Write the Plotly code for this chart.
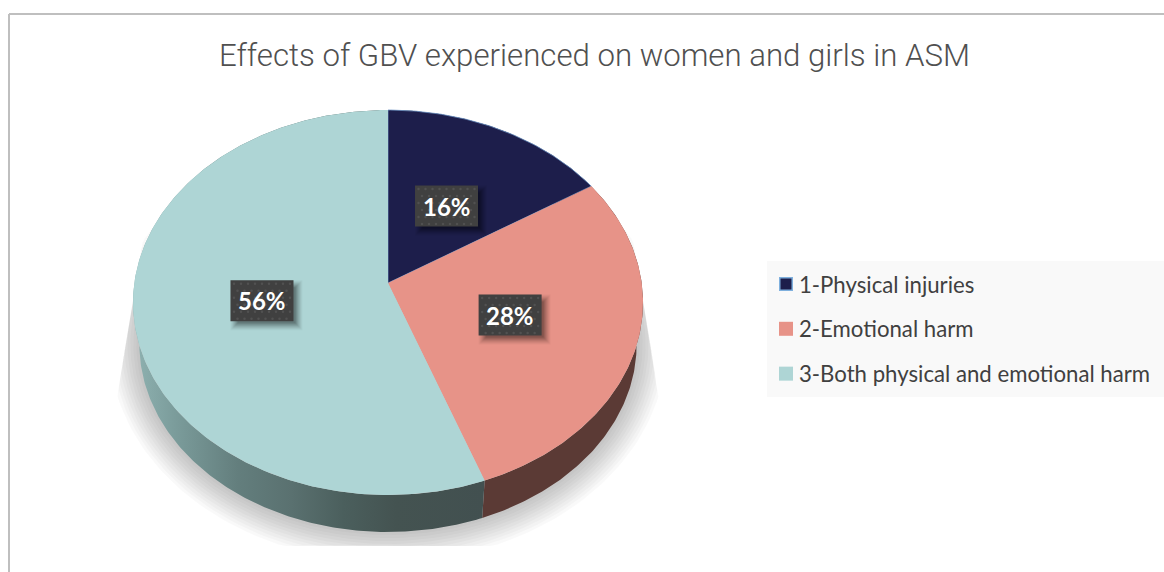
import math
import plotly.graph_objects as go

# ---- data ----
categories = ["1-Physical injuries", "2-Emotional harm", "3-Both physical and emotional harm"]
values = [16.0, 28.4, 55.6]
title_text = "Effects of GBV experienced on women and girls in ASM"

top_colors = ["#1d1e4b", "#e79388", "#aed5d5"]
wall_colors = ["#101128", "#5b3a35", "#4a5f5e"]
label_dy = [3, 1, 1]

# ---- pie geometry (pixel-scale axes, slight perspective) ----
W, H = 1164, 572
CX, CY = 388, 283
K, A, B = 0.1013, 190.5, 253.7
DEPTH_SCALE, DEPTH_DY = 0.975, 42.3


def project(theta, r=1.0):
    u, v = r * math.sin(theta), -r * math.cos(theta)
    w = 1 - K * v
    return B * u / w, A * v / w


def arc(a0, a1, n=None):
    n = n or max(4, int(abs(a1 - a0) * 90))
    return [a0 + (a1 - a0) * i / n for i in range(n + 1)]


total = sum(values)
bounds = [0.0]
for val in values:
    bounds.append(bounds[-1] + val / total * 2 * math.pi)

fig = go.Figure()


def poly(xs, ys, **kw):
    fig.add_trace(go.Scatter(x=xs, y=ys, mode="lines", fill="toself", line=kw.pop("line", dict(width=0)),
                             hoverinfo="skip", showlegend=False, **kw))


# ---- soft floor shadow ----
def shadow_left(y):
    return 133 - (min(y, 403) - 300) * 17 / 103


n_layers = 10
for k in range(n_layers, 0, -1):
    d = k * 3.0
    xs, ys = [], []
    for t in arc(0, 2 * math.pi, 240):
        px, py = project(t)
        bx = px * DEPTH_SCALE
        by = py * DEPTH_SCALE + DEPTH_DY
        sx = bx * (1 + d / 249)
        sy = (by - 61) * (1 + d / 188) + 61
        x, y = CX + sx, CY + sy
        left = shadow_left(y)
        x = max(left, min(x, 2 * CX - left))
        y = min(y, 546)
        xs.append(x)
        ys.append(y)
    poly(xs, ys, fillcolor="rgba(0,0,0,0.024)")

# ---- side walls ----
wall_gradient = dict(type="horizontal", start=133, stop=484, colorscale=[
    [0.00, "#8fb2b1"], [0.12, "#7b9c9b"], [0.30, "#637e7d"], [0.45, "#5a7170"],
    [0.60, "#4b5f5d"], [0.75, "#445351"], [1.00, "#425050"]])
for i in range(len(values)):
    ts = arc(bounds[i], bounds[i + 1])
    outer = [project(t) for t in ts]
    xs = [CX + p[0] for p in outer] + [CX + p[0] * DEPTH_SCALE for p in reversed(outer)]
    ys = [CY + p[1] for p in outer] + [CY + p[1] * DEPTH_SCALE + DEPTH_DY for p in reversed(outer)]
    if i == 2:
        poly(xs, ys, fillgradient=wall_gradient)
    else:
        poly(xs, ys, fillcolor=wall_colors[i])

# ---- top faces ----
for i in range(len(values)):
    ts = arc(bounds[i], bounds[i + 1])
    xs = [CX] + [CX + project(t)[0] for t in ts] + [CX]
    ys = [CY] + [CY + project(t)[1] for t in ts] + [CY]
    line = dict(width=0.8, color="#6d93c4") if i == 0 else dict(width=0)
    poly(xs, ys, fillcolor=top_colors[i], line=line)

# ---- data labels ----
LBL_W, LBL_H = 63, 41
annotations = []
for i, val in enumerate(values):
    mid = (bounds[i] + bounds[i + 1]) / 2
    px, py = project(mid, 0.5)
    lx, ly = CX + px, CY + py + label_dy[i]
    for off, alpha in [(9, 0.03), (8, 0.04), (7, 0.05), (6, 0.06), (5, 0.07), (4, 0.08), (3, 0.09), (2, 0.1)]:
        poly([lx - LBL_W / 2 + 9 - off, lx + LBL_W / 2 + off, lx + LBL_W / 2 + off, lx - LBL_W / 2 + 9 - off,
              lx - LBL_W / 2 + 9 - off],
             [ly - LBL_H / 2 + 9 - off, ly - LBL_H / 2 + 9 - off, ly + LBL_H / 2 + off, ly + LBL_H / 2 + off,
              ly - LBL_H / 2 + 9 - off],
             fillcolor=f"rgba(0,0,0,{alpha})")
    poly([lx - LBL_W / 2, lx + LBL_W / 2, lx + LBL_W / 2, lx - LBL_W / 2, lx - LBL_W / 2],
         [ly - LBL_H / 2, ly - LBL_H / 2, ly + LBL_H / 2, ly + LBL_H / 2, ly - LBL_H / 2],
         fillcolor="#404040")
    dots_x, dots_y = [], []
    for row in range(6):
        for col in range(9):
            dots_x.append(lx - LBL_W / 2 + 3.5 + col * 7 + (3.5 if row % 2 else 0))
            dots_y.append(ly - LBL_H / 2 + 3.5 + row * 7)
    dots = [(a, b) for a, b in zip(dots_x, dots_y) if a < lx + LBL_W / 2 - 1]
    fig.add_trace(go.Scatter(x=[p[0] for p in dots], y=[p[1] for p in dots], mode="markers",
                             marker=dict(size=2.5, color="rgba(255,255,255,0.09)"),
                             hoverinfo="skip", showlegend=False))
    annotations.append(dict(x=lx, y=ly, xref="x", yref="y", text=f"<b>{round(val)}%</b>", showarrow=False,
                            font=dict(family="Lato", size=24, color="#ffffff")))

# ---- legend entries ----
for i, name in enumerate(categories):
    fig.add_trace(go.Scatter(x=[None], y=[None], mode="markers", name=name, legendgroup=name,
                             marker=dict(symbol="square", size=12.5 if i == 0 else 14, color=top_colors[i],
                                         line=dict(width=1.5 if i == 0 else 0, color="#7fb0de"))))

fig.update_layout(
    width=W, height=H, margin=dict(l=0, r=0, t=0, b=0),
    paper_bgcolor="#ffffff", plot_bgcolor="#ffffff",
    xaxis=dict(range=[0, W], visible=False, fixedrange=True),
    yaxis=dict(range=[H, 0], visible=False, fixedrange=True),
    annotations=annotations + [dict(x=594, y=55, xref="x", yref="y", text=title_text, showarrow=False,
                                    font=dict(family="Roboto", size=31.2, color="#505050", weight=300))],
    legend=dict(x=759 / W, y=1 - 263 / H, xanchor="left", yanchor="top", bgcolor="rgba(0,0,0,0)",
                font=dict(family="Lato", size=22.2, color="#404040"), tracegroupgap=13, itemclick=False,
                itemdoubleclick=False),
    shapes=[
        dict(type="rect", xref="x", yref="y", x0=767, x1=W, y0=261, y1=397, layer="below",
             fillcolor="#f9f9f9", line=dict(width=0)),
        dict(type="line", xref="x", yref="y", x0=9, x1=W, y0=14, y1=14, line=dict(color="#bfbfbf", width=2)),
        dict(type="line", xref="x", yref="y", x0=9, x1=9, y0=14, y1=H, line=dict(color="#bfbfbf", width=2)),
    ],
)

# page without the default body margin; legend swatches sit closer to their text
post = """
document.body.style.margin = '0';
function nudge() {
  document.querySelectorAll('.legendpoints').forEach(function (g) {
    g.setAttribute('transform', 'translate(7,0)');
  });
}
nudge();
setTimeout(nudge, 50);
"""
fig.write_html("out.html", post_script=post, config={"displayModeBar": False})
